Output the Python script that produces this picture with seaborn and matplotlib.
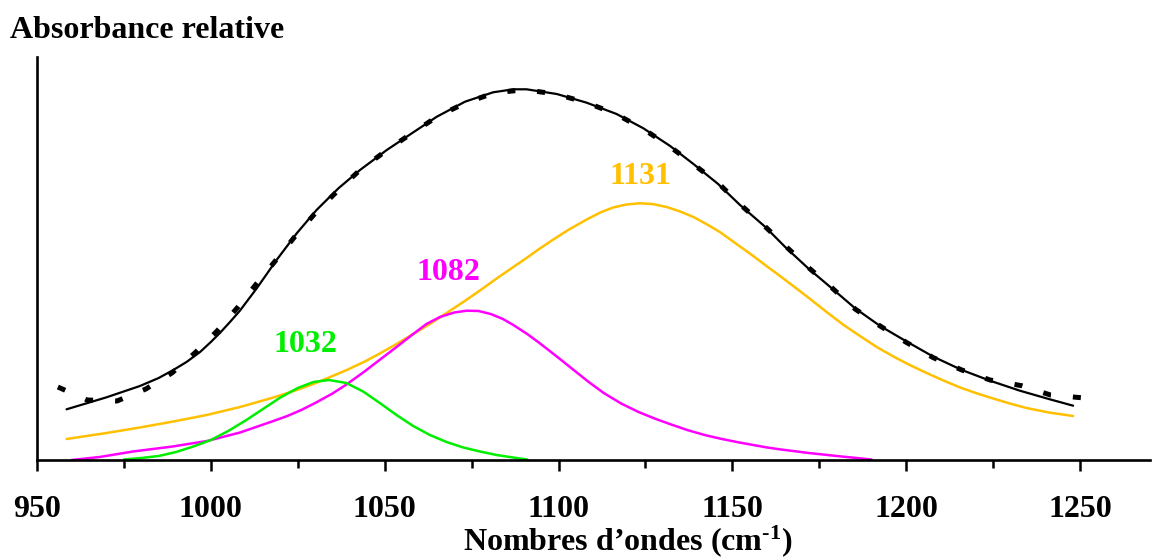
import matplotlib
matplotlib.use("Agg")
import matplotlib.pyplot as plt
import seaborn as sns
from matplotlib.ticker import MultipleLocator

# ---- data ----
# experimental spectrum (dashed)
data_wn = [956.0, 964.4, 973.0, 981.3, 988.8, 995.4, 1001.8, 1007.8, 1013.3, 1019.0,
           1024.3, 1030.4, 1036.7, 1042.9, 1050.4, 1057.8, 1065.4, 1073.4, 1081.7, 1090.5,
           1099.5, 1108.1, 1116.5, 1124.4, 1131.8, 1138.7, 1146.2, 1152.2, 1159.1, 1165.5,
           1171.8, 1178.6, 1185.3, 1192.5, 1200.0, 1207.8, 1216.0, 1224.1, 1233.2, 1241.5,
           1250.3]
data_abs = [73, 60, 59, 71, 87, 107, 129, 153, 177, 201,
            224, 248.3, 270, 290, 309.3, 326.7, 344, 357.3, 367.3, 370.3,
            365.7, 357.3, 346, 331, 314, 296, 276, 255.7, 234.5, 213.3,
            192.7, 172.3, 151, 134, 117.7, 102.3, 90, 80, 74.3, 65,
            62.3]

# fitted sum (solid black)
fit_wn = [958.5, 970.0, 979.6, 985.0, 989.2, 993.0, 996.9, 1000.0, 1002.6, 1005.5,
          1008.4, 1013.2, 1018.9, 1024.7, 1030.4, 1036.7, 1042.9, 1050.6, 1057.8, 1065.0,
          1073.1, 1081.2, 1087.0, 1090.8, 1099.5, 1108.1, 1116.7, 1124.4, 1132.1, 1138.8,
          1145.9, 1152.2, 1159.4, 1165.1, 1171.8, 1178.6, 1185.3, 1192.5, 1200.2, 1207.8,
          1216.0, 1224.1, 1232.7, 1241.3, 1248.0]
fit_abs = [50.7, 62.7, 74, 82, 90, 98, 108, 118, 127, 138,
           149.5, 171.7, 200, 226.7, 250, 271.7, 290, 310, 326.7, 343.3,
           358.3, 367.7, 370.7, 370.7, 366, 357.3, 346, 331.7, 314, 296,
           276, 255, 233.3, 213.3, 191.7, 171.7, 151.7, 134, 118.3, 103.3,
           90, 79.3, 69.3, 60.7, 54.3]

# component 1032 (green)
g_wn = [975.0, 980.0, 985.0, 990.0, 995.0, 1000.0, 1005.0, 1010.0, 1015.0, 1020.0,
        1025.0, 1029.5, 1034.0, 1039.0, 1043.8, 1048.6, 1053.4, 1058.2, 1063.0, 1067.8,
        1072.6, 1077.4, 1082.2, 1086.9, 1091.0]
g_abs = [0.5, 2, 4, 8, 13.5, 20, 29, 39.5, 51, 62.5,
         72, 78, 80, 77, 68.5, 57, 45, 34, 25, 18,
         12.5, 8.5, 5, 2.5, 0.5]

# component 1082 (magenta)
m_wn = [960.0, 968.0, 977.6, 989.0, 998.9, 1008.4, 1018.0, 1022.0, 1026.0, 1030.0,
        1035.0, 1039.0, 1044.0, 1048.5, 1053.4, 1058.2, 1062.0, 1065.9, 1070.0, 1073.6,
        1077.0, 1080.5, 1084.0, 1087.0, 1091.0, 1094.7, 1099.5, 1104.0, 1108.5, 1113.0,
        1118.0, 1123.0, 1128.0, 1132.0, 1137.0, 1142.0, 1147.0, 1152.0, 1156.0, 1160.0,
        1164.0, 1172.0, 1180.0, 1190.0]
m_abs = [0, 3, 8.5, 13.5, 19, 27.5, 39, 44, 50, 57,
         66.5, 75.5, 88, 100, 113, 126, 136, 143, 147.5, 149.3,
         149, 146, 141, 135, 126, 116.5, 103.5, 91, 78.5, 67,
         56.5, 48, 41, 36, 30, 25, 21, 17.5, 15, 12.5,
         10.5, 7, 4, 0.5]

# component 1131 (yellow)
y_wn = [958.5, 970.0, 979.6, 989.2, 998.8, 1008.4, 1018.0, 1024.7, 1029.5, 1034.0,
        1039.1, 1044.0, 1048.6, 1053.4, 1058.2, 1063.0, 1067.8, 1072.6, 1077.4, 1082.2,
        1087.0, 1091.0, 1094.0, 1098.5, 1103.0, 1108.1, 1112.0, 1115.7, 1119.5, 1123.4,
        1127.0, 1131.1, 1135.0, 1138.8, 1142.5, 1146.4, 1151.2, 1156.0, 1160.0, 1163.7,
        1167.5, 1172.0, 1177.1, 1182.0, 1186.7, 1191.5, 1196.3, 1201.0, 1205.9, 1210.7,
        1215.5, 1220.0, 1225.0, 1229.8, 1234.6, 1241.0, 1248.0]
y_abs = [21, 27, 32.5, 38.5, 45, 53, 62.5, 70, 76, 82.5,
         90, 98, 106.5, 116, 126, 136, 147, 158, 169.5, 181.5,
         193, 202.5, 210, 220.5, 230.5, 240.5, 247.5, 252.5, 255.5, 256.7,
         256, 253, 248.5, 243, 236, 228, 216, 204, 193.5, 184,
         174, 162, 148, 135, 124, 113, 103.5, 95, 87, 79.5,
         72.5, 67, 61.5, 56.5, 52, 47.5, 44]

peak_labels = ["1032", "1082", "1131"]
peak_label_x = [1027.2, 1068.4, 1123.7]
peak_label_y = [115, 188, 283]

x_title = "Nombres d\u2019ondes (cm$^{\\text{-1}}$)"
y_title = "Absorbance relative"

# ---- style ----
sns.set_theme(style="ticks")
plt.rcParams['font.family'] = ['Liberation Serif', 'DejaVu Serif']
plt.rcParams['font.weight'] = 'bold'
plt.rcParams['text.color'] = 'black'
plt.rcParams['mathtext.fontset'] = 'custom'
plt.rcParams['mathtext.rm'] = 'Liberation Serif:bold'
plt.rcParams['mathtext.it'] = 'Liberation Serif:bold'
plt.rcParams['mathtext.bf'] = 'Liberation Serif:bold'

GREEN = "#00EE00"
MAGENTA = "#FF00FF"
YELLOW = "#FFC000"
FS = 23

fig = plt.figure(figsize=(11.55, 5.57), dpi=100)
ax = fig.add_axes([37 / 1155, 97 / 557, 1112.6 / 1155, 403 / 557])

sns.lineplot(x=y_wn, y=y_abs, ax=ax, color=YELLOW, lw=1.8, sort=False, estimator=None)
sns.lineplot(x=m_wn, y=m_abs, ax=ax, color=MAGENTA, lw=1.8, sort=False, estimator=None)
sns.lineplot(x=g_wn, y=g_abs, ax=ax, color=GREEN, lw=1.8, sort=False, estimator=None)
sns.lineplot(x=data_wn, y=data_abs, ax=ax, color="black", lw=3.6,
             linestyle=(0, (1.6, 4.4)), sort=False, estimator=None)
sns.lineplot(x=fit_wn, y=fit_abs, ax=ax, color="black", lw=1.6, sort=False, estimator=None)

for lab, lx, ly, c in zip(peak_labels, peak_label_x, peak_label_y, [GREEN, MAGENTA, YELLOW]):
    ax.text(lx, ly, lab, color=c, fontsize=FS, fontweight='bold', ha='center', va='center')

ax.set_xlim(950, 1270)
ax.set_ylim(0, 403)
ax.xaxis.set_major_locator(MultipleLocator(50))
ax.xaxis.set_minor_locator(MultipleLocator(25))
ax.set_yticks([])
ax.tick_params(axis='x', which='major', direction='out', length=8, width=1.8,
               labelsize=FS, pad=17, colors='black')
ax.tick_params(axis='x', which='minor', direction='out', length=5.5, width=1.8, colors='black')
for lbl in ax.get_xticklabels():
    lbl.set_fontweight('bold')
for s in ['top', 'right']:
    ax.spines[s].set_visible(False)
for s in ['left', 'bottom']:
    ax.spines[s].set_linewidth(1.9)
    ax.spines[s].set_color('black')
ax.set_xlabel("")
ax.set_ylabel("")

fig.text(10 / 1155, 1 - 38.5 / 557, y_title, fontsize=FS, fontweight='bold',
         ha='left', va='baseline')
fig.text(628 / 1155, 1 - 550 / 557, x_title, fontsize=FS, fontweight='bold',
         ha='center', va='baseline')

fig.savefig("out.png", dpi=100, facecolor="white")
